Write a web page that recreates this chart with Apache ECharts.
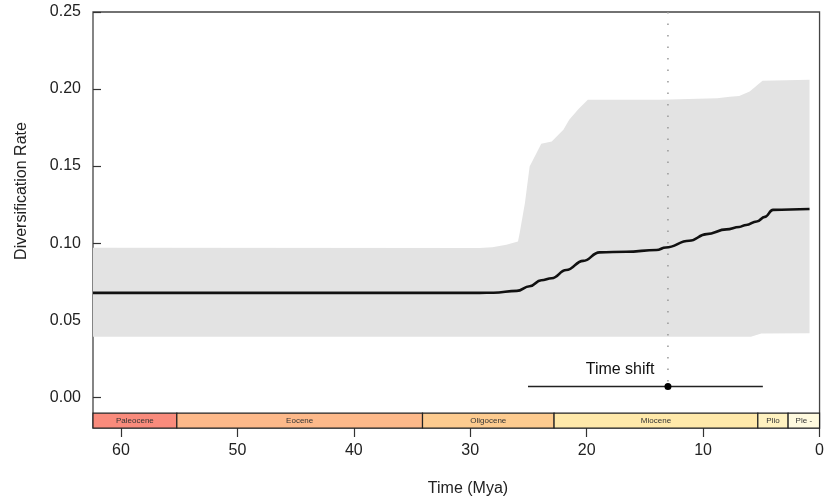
<!DOCTYPE html>
<html>
<head>
  <meta charset="utf-8">
  <title>Diversification Rate</title>
  <script src="https://cdn.jsdelivr.net/npm/echarts@6/dist/echarts.min.js"></script>
</head>
<body style="margin:0">
  <div id="chart" style="width:827px;height:500px;"></div>
  <script>
    // mean rate through time (Mya, rate)
    var meanTime = [62.4, 29.2, 28.0, 26.0, 24.9, 23.9, 23.0, 21.75, 20.3, 18.9, 16.6, 14.0, 13.2, 11.2, 9.7, 8.0, 6.9, 6.3, 5.4, 4.7, 4.0, 0.86];
    var meanRate = [0.0677, 0.0677, 0.0678, 0.069, 0.072, 0.0759, 0.0772, 0.0825, 0.0885, 0.094, 0.0944, 0.0955, 0.0972, 0.1015, 0.1058, 0.1089, 0.1105, 0.1118, 0.114, 0.117, 0.1216, 0.1221];
    // credible interval band
    var upperTime = [62.4, 29.2, 28.1, 26.9, 25.9, 25.75, 25.3, 24.9, 23.9, 23.0, 22.0, 21.5, 20.7, 19.9, 13.7, 8.8, 7.7, 6.9, 6.0, 4.9, 0.86];
    var upperRate = [0.097, 0.0969, 0.0973, 0.099, 0.1011, 0.1067, 0.1262, 0.1497, 0.1645, 0.166, 0.1736, 0.18, 0.187, 0.1931, 0.1931, 0.194, 0.195, 0.1955, 0.1984, 0.2054, 0.206];
    var lowerTime = [62.4, 5.9, 5.0, 0.86];
    var lowerRate = [0.0393, 0.0393, 0.0414, 0.0415];
    // time shift estimate
    var shiftTime = 13.02;
    var shiftLow = 25.04;
    var shiftHigh = 4.87;
    var shiftY = 0.0069;
    // epochs
    var epochNames = ['Paleocene', 'Eocene', 'Oligocene', 'Miocene', 'Plio', 'Ple -'];
    var epochStart = [62.4, 55.2, 34.1, 22.8, 5.3, 2.7];
    var epochEnd = [55.2, 34.1, 22.8, 5.3, 2.7, 0];
    var epochColors = ['#F98B7C', '#FDB98A', '#FDCB8F', '#FFE9AA', '#FFF2C0', '#FFFADF'];
    var xTicks = [0, 10, 20, 30, 40, 50, 60];
    var yTicks = [0, 0.05, 0.1, 0.15, 0.2, 0.25];

    var font = "'Liberation Sans', Arial, sans-serif";
    var chart = echarts.init(document.getElementById('chart'));

    var meanData = meanTime.map(function (t, i) { return [t, meanRate[i]]; });
    var epochData = epochNames.map(function (n, i) { return [epochStart[i], epochEnd[i], i]; });

    var option = {
      animation: false,
      grid: { left: 93, right: 7, top: 12, bottom: 72, show: true, borderColor: '#444', borderWidth: 1.3, backgroundColor: '#fff' },
      xAxis: {
        type: 'value', inverse: true, min: 0, max: 62.4,
        splitLine: { show: false },
        axisLine: { show: false, onZero: false },
        axisTick: { show: true, length: 9, lineStyle: { color: '#333', width: 1.2 }, customValues: xTicks },
        axisLabel: { color: '#222', fontSize: 16, fontFamily: font, margin: 15, customValues: xTicks }
      },
      yAxis: {
        type: 'value', min: -0.02, max: 0.25,
        splitLine: { show: false },
        axisLine: { show: false, onZero: false },
        axisTick: { show: true, inside: true, length: 8, lineStyle: { color: '#333', width: 1.2 }, customValues: yTicks },
        axisLabel: { color: '#222', fontSize: 16, fontFamily: font, margin: 12, customValues: yTicks,
          formatter: function (v) { return v.toFixed(2); } }
      },
      graphic: [
        { type: 'text', x: 22, y: 191, rotation: Math.PI / 2,
          style: { text: 'Diversification Rate', fill: '#222', font: '16px ' + font, align: 'center', verticalAlign: 'middle' } },
        { type: 'text', x: 468, y: 489,
          style: { text: 'Time (Mya)', fill: '#222', font: '16px ' + font, align: 'center', verticalAlign: 'middle' } }
      ],
      series: [
        {
          type: 'custom', z: 1, silent: true,
          data: [[0, 0]],
          renderItem: function (params, api) {
            var pts = [];
            upperTime.forEach(function (t, i) { pts.push(api.coord([t, upperRate[i]])); });
            for (var i = lowerTime.length - 1; i >= 0; i--) { pts.push(api.coord([lowerTime[i], lowerRate[i]])); }
            return { type: 'polygon', shape: { points: pts }, style: { fill: '#E3E3E3' } };
          }
        },
        {
          type: 'line', z: 3, data: meanData, showSymbol: false, smooth: 0.45, smoothMonotone: 'x',
          lineStyle: { color: '#111', width: 2.6 }
        },
        {
          type: 'line', z: 3, data: [[shiftTime, 0.25], [shiftTime, shiftY]], showSymbol: false,
          lineStyle: { color: '#999', width: 1.5, type: [1.5, 10] }
        },
        {
          type: 'line', z: 4, data: [[shiftLow, shiftY], [shiftHigh, shiftY]], showSymbol: false,
          lineStyle: { color: '#222', width: 1.5 }
        },
        {
          type: 'scatter', z: 5, data: [[shiftTime, shiftY]], symbolSize: 7,
          itemStyle: { color: '#000', opacity: 1 },
          label: { show: true, formatter: 'Time shift', position: 'left', distance: 10, offset: [0, -17],
            color: '#111', opacity: 1, fontSize: 16, fontFamily: font }
        },
        {
          type: 'custom', z: 6, silent: true, data: epochData,
          renderItem: function (params, api) {
            var i = api.value(2);
            var p0 = api.coord([api.value(0), -0.0104]);
            var p1 = api.coord([api.value(1), -0.02]);
            return {
              type: 'group',
              children: [
                { type: 'rect', shape: { x: p0[0], y: p0[1], width: p1[0] - p0[0], height: p1[1] - p0[1] },
                  style: { fill: epochColors[i], stroke: '#222', lineWidth: 1.2 } },
                { type: 'text', x: (p0[0] + p1[0]) / 2, y: (p0[1] + p1[1]) / 2,
                  style: { text: epochNames[i], fill: '#333', font: '8px ' + font, align: 'center', verticalAlign: 'middle' } }
              ]
            };
          }
        }
      ]
    };
    chart.setOption(option);
  </script>
</body>
</html>
